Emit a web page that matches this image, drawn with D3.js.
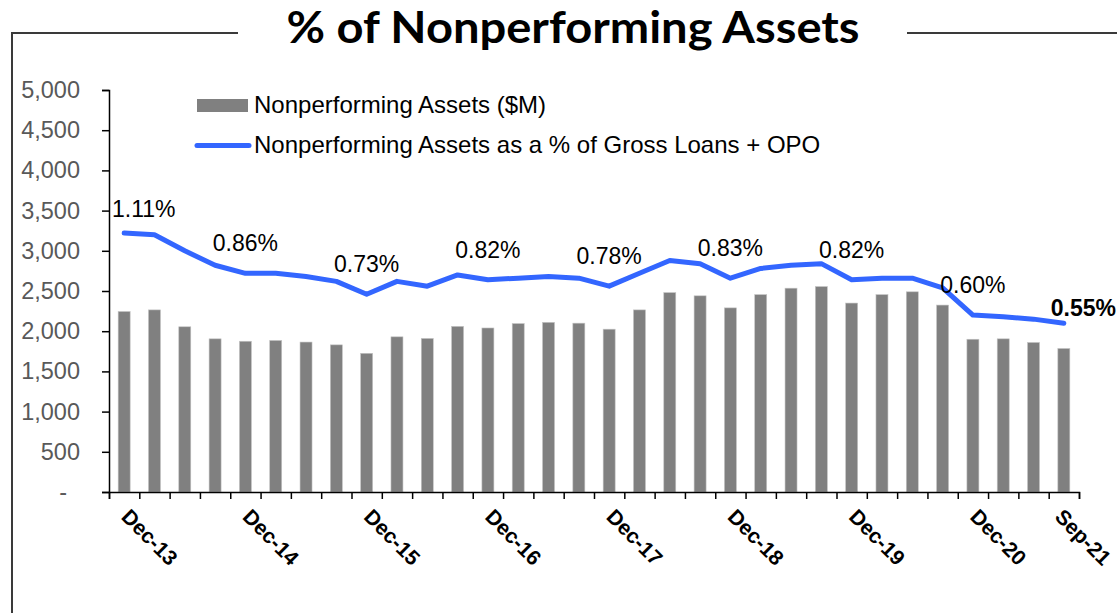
<!DOCTYPE html>
<html>
<head>
<meta charset="utf-8">
<script src="https://cdn.jsdelivr.net/npm/d3@7"></script>
<style>
  html, body { margin: 0; padding: 0; background: #fff; }
  svg { display: block; }
</style>
</head>
<body>
<svg id="chart" width="1117" height="613"></svg>
<script>
// ---- Data ----
const categories = [
  "Dec-13","Mar-14","Jun-14","Sep-14","Dec-14","Mar-15","Jun-15","Sep-15",
  "Dec-15","Mar-16","Jun-16","Sep-16","Dec-16","Mar-17","Jun-17","Sep-17",
  "Dec-17","Mar-18","Jun-18","Sep-18","Dec-18","Mar-19","Jun-19","Sep-19",
  "Dec-19","Mar-20","Jun-20","Sep-20","Dec-20","Mar-21","Jun-21","Sep-21"
];
const npaValues = [
  2245, 2265, 2055, 1905, 1875, 1885, 1865, 1830,
  1725, 1930, 1910, 2060, 2040, 2095, 2110, 2100,
  2025, 2265, 2480, 2440, 2290, 2455, 2535, 2555,
  2350, 2455, 2490, 2325, 1900, 1905, 1860, 1785
];
const npaPct = [
  1.11, 1.10, 1.00, 0.91, 0.86, 0.86, 0.84, 0.81,
  0.73, 0.81, 0.78, 0.85, 0.82, 0.83, 0.84, 0.83,
  0.78, 0.86, 0.94, 0.92, 0.83, 0.89, 0.91, 0.92,
  0.82, 0.83, 0.83, 0.77, 0.60, 0.59, 0.575, 0.55
];
const xTickLabels = ["Dec-13","Dec-14","Dec-15","Dec-16","Dec-17","Dec-18","Dec-19","Dec-20","Sep-21"];
const pctLabelCats = ["Dec-13","Dec-14","Dec-15","Dec-16","Dec-17","Dec-18","Dec-19","Dec-20","Sep-21"];
const yTicks = [0, 500, 1000, 1500, 2000, 2500, 3000, 3500, 4000, 4500, 5000];
const titleText = "% of Nonperforming Assets";
const legendBarText = "Nonperforming Assets ($M)";
const legendLineText = "Nonperforming Assets as a % of Gross Loans + OPO";

// ---- Layout ----
const W = 1117, H = 613;
const plot = { left: 109, right: 1079, top: 90, bottom: 492 };
const svg = d3.select("#chart");
const FONT = "'Liberation Sans', Arial, sans-serif";

// Frame lines
const frame = svg.append("g").attr("stroke", "#3a3a3a").attr("stroke-width", 2).attr("fill", "none");
frame.append("path").attr("d", `M12,${H} L12,33 L238,33`);
frame.append("path").attr("d", `M907,33 L${W},33`);

// Title
svg.append("text")
  .attr("x", 573).attr("y", 43)
  .attr("text-anchor", "middle")
  .attr("font-family", "Lato, 'Open Sans', sans-serif")
  .attr("font-weight", "bold")
  .attr("font-size", 43)
  .attr("textLength", 573)
  .attr("lengthAdjust", "spacingAndGlyphs")
  .attr("fill", "#000")
  .text(titleText);

// Scales
const x = d3.scaleBand().domain(categories).range([plot.left, plot.right]).paddingInner(0).paddingOuter(0);
const xb = d3.scaleLinear().domain([0, categories.length]).range([plot.left, plot.right]);
const y = d3.scaleLinear().domain([0, 5000]).range([plot.bottom, plot.top]);
const y2 = d3.scaleLinear().domain([-0.5, 2.0]).range([plot.bottom, plot.top]);

// Bars
const barW = 12;
svg.append("g").selectAll("rect")
  .data(npaValues)
  .join("rect")
  .attr("x", (d, i) => x(categories[i]) + x.bandwidth() / 2 - barW / 2)
  .attr("y", d => y(d))
  .attr("width", barW)
  .attr("height", d => y(0) - y(d))
  .attr("fill", "#808080")
  .attr("stroke", "#c4c4c4")
  .attr("stroke-width", 0.6);

// Y axis
const yAxis = svg.append("g")
  .attr("transform", `translate(${plot.left},0)`)
  .call(d3.axisLeft(y).tickValues(yTicks).tickSize(7).tickPadding(22)
    .tickFormat(d => d === 0 ? "-" : d3.format(",")(d)));
yAxis.select(".domain").attr("stroke", "#000").attr("stroke-width", 1.5);
yAxis.selectAll(".tick line").attr("stroke", "#000").attr("stroke-width", 1.5);
yAxis.selectAll(".tick text")
  .attr("font-family", FONT).attr("font-size", 23.5).attr("fill", "#595959");
yAxis.selectAll(".tick text").filter(d => d === 0).attr("dx", -13);

// X axis (boundary ticks)
const xAxis = svg.append("g")
  .attr("transform", `translate(0,${plot.bottom})`)
  .call(d3.axisBottom(xb).tickValues(d3.range(categories.length + 1)).tickSize(7).tickFormat(""));
xAxis.select(".domain").attr("stroke", "#000").attr("stroke-width", 1.5);
xAxis.selectAll(".tick line").attr("stroke", "#000").attr("stroke-width", 1.5);

// X labels rotated (kept inside the right edge)
svg.append("g").selectAll("text")
  .data(xTickLabels)
  .join("text")
  .attr("font-family", FONT)
  .attr("font-weight", "bold")
  .attr("font-size", 21)
  .attr("fill", "#000")
  .text(d => d)
  .each(function(d) {
    let tx = x(d) + x.bandwidth() / 2 - 4;
    const ty = plot.bottom + 26;
    const sel = d3.select(this);
    sel.attr("transform", `translate(${tx},${ty}) rotate(45)`);
    const r = this.getBoundingClientRect();
    if (r.right > W - 1) {
      tx -= (r.right - (W - 1));
      sel.attr("transform", `translate(${tx},${ty}) rotate(45)`);
    }
  });

// Line
const line = d3.line()
  .x((d, i) => x(categories[i]) + x.bandwidth() / 2)
  .y(d => y2(d));
svg.append("path")
  .datum(npaPct)
  .attr("d", line)
  .attr("fill", "none")
  .attr("stroke", "#3366ff")
  .attr("stroke-width", 5)
  .attr("stroke-linejoin", "round")
  .attr("stroke-linecap", "round");

// Data labels
const lblG = svg.append("g");
pctLabelCats.forEach((c, k) => {
  const i = categories.indexOf(c);
  const cx = x(c) + x.bandwidth() / 2;
  const cy = y2(npaPct[i]);
  const isLast = k === pctLabelCats.length - 1;
  const t = lblG.append("text")
    .attr("font-family", FONT)
    .attr("font-size", 23)
    .attr("font-weight", isLast ? "bold" : "normal")
    .attr("fill", "#000")
    .text(d3.format(".2f")(npaPct[i]) + "%");
  const w = t.node().getComputedTextLength();
  let lx = cx - w / 2;
  let ly = cy - 22;
  if (isLast) { lx = W - 1 - w; ly = cy - 7; }
  if (k === 0) { ly = cy - 16; }
  lx = Math.max(plot.left + 3, Math.min(W - 1 - w, lx));
  t.attr("x", lx).attr("y", ly);
});

// Legend
const leg = svg.append("g");
leg.append("rect").attr("x", 197).attr("y", 99).attr("width", 51).attr("height", 13).attr("fill", "#808080");
leg.append("text").attr("x", 254).attr("y", 113)
  .attr("font-family", FONT).attr("font-size", 24).attr("fill", "#000").text(legendBarText);
leg.append("line").attr("x1", 197).attr("x2", 249).attr("y1", 145.5).attr("y2", 145.5)
  .attr("stroke", "#3366ff").attr("stroke-width", 5).attr("stroke-linecap", "round");
leg.append("text").attr("x", 254).attr("y", 153)
  .attr("font-family", FONT).attr("font-size", 24).attr("fill", "#000").text(legendLineText);
</script>
</body>
</html>
